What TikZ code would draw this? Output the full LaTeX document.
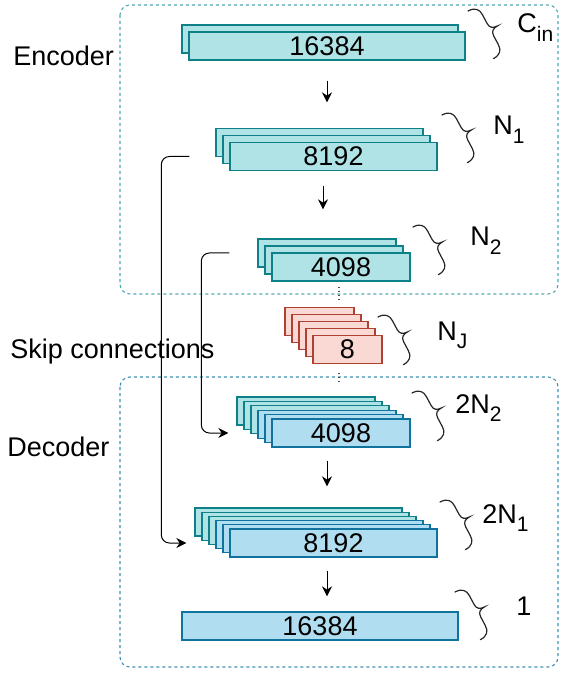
\documentclass[tikz,border=0pt]{standalone}
\usepackage{fontspec}
\setmainfont{Liberation Sans}
\usepackage{xcolor}
\usetikzlibrary{arrows.meta,calc}
\definecolor{encfill}{HTML}{B0E3E6}
\definecolor{encline}{HTML}{0E8088}
\definecolor{decfill}{HTML}{B1DDF0}
\definecolor{decline}{HTML}{10739E}
\definecolor{latfill}{HTML}{FAD9D5}
\definecolor{latline}{HTML}{AE4132}
\definecolor{encgrp}{HTML}{4FA8B4}
\definecolor{decgrp}{HTML}{3F90B4}
\newcommand{\lsub}[1]{\raisebox{-0.3em}{\fontsize{10.5}{10}\selectfont #1}}

\begin{document}
\begin{tikzpicture}[x=0.5pt, y=-0.5pt,
  lay/.style={line width=0.65pt, minimum height=14pt, inner sep=0pt,
              font=\fontsize{13.5}{16}\selectfont},
  enc/.style={lay, draw=encline, fill=encfill},
  dec/.style={lay, draw=decline, fill=decfill},
  lat/.style={lay, draw=latline, fill=latfill},
  wfull/.style={minimum width=138pt},
  wmid/.style={minimum width=103.5pt},
  wsmall/.style={minimum width=69pt},
  wtiny/.style={minimum width=34.5pt},
  grp/.style={dash pattern=on 1.5pt off 1.5pt, line width=0.55pt, rounded corners=5pt},
  arr/.style={-{Stealth[length=5pt,width=5pt]}, line width=0.5pt},
  skip/.style={arr, rounded corners=4pt},
  dotline/.style={dash pattern=on 0.5pt off 1.5pt, line width=0.6pt, gray!60!black},
  chbrace/.pic={\draw[line width=0.6pt, line cap=round, black!85]
      (0,0) .. controls (8,0) and (11,4) .. (11,10) -- (11,20)
      .. controls (11,25) and (14,27) .. (19,27)
      .. controls (14,27) and (11,29) .. (11,34) -- (11,44)
      .. controls (11,50) and (8,54) .. (0,54);},
  lbl/.style={anchor=base west, inner sep=0pt, font=\fontsize{13.5}{16}\selectfont},
]
\useasboundingbox (0,0) rectangle (561,673);

% group frames
\draw[grp, encgrp] (120,5) rectangle (558,294);
\draw[grp, decgrp] (120,377) rectangle (558,667);
\node[lbl] (enclbl) at (13,66) {Encoder};
\node[lbl] (skiplbl) at (10,358) {Skip connections};
\node[lbl] (declbl) at (7,456) {Decoder};

% encoder
\node[enc, wfull] (cin-1) at (320,39) {};
\node[enc, wfull] (cin-2) at (327,46) {16384};
\foreach \i in {1,2}
  \node[enc, wmid] (n1-\i) at ({333.5-7*(3-\i)},{156.5-7*(3-\i)}) {};
\node[enc, wmid] (n1-3) at (333.5,156.5) {8192};
\foreach \i in {1,2}
  \node[enc, wsmall] (n2-\i) at ({341-7*(3-\i)},{267-7*(3-\i)}) {};
\node[enc, wsmall] (n2-3) at (341,267) {4098};

% bottleneck
\foreach \i in {1,...,4}
  \node[lat, wtiny] (nj-\i) at ({347.5-7*(5-\i)},{349.5-7*(5-\i)}) {};
\node[lat, wtiny] (nj-5) at (347.5,349.5) {8};

% decoder
\foreach \i/\s in {1/enc,2/enc,3/enc,4/dec,5/dec}
  \node[\s, wsmall] (d2-\i) at ({341-7*(6-\i)},{433-4.4*(6-\i)}) {};
\node[dec, wsmall] (d2-6) at (341,433) {4098};
\foreach \i/\s in {1/enc,2/enc,3/enc,4/dec,5/dec}
  \node[\s, wmid] (d1-\i) at ({333.5-7*(6-\i)},{543-4.2*(6-\i)}) {};
\node[dec, wmid] (d1-6) at (333.5,543) {8192};
\node[dec, wfull] (out) at (320,626) {16384};

% flow
\draw[arr, shorten <=10pt, shorten >=12.75pt] (cin-2.south) -- (cin-2.south |- n1-1.north);
\draw[arr, shorten <=7.25pt, shorten >=14.5pt] ($(n1-3.south)+(-10.5,0)$) -- ($(n1-3.south |- n2-1.north)+(-10.5,0)$);
\draw[dotline] ($(n2-3.south)+(-2,5)$) -- ($(n2-3.south |- nj-1.north)+(-2,-8)$);
\draw[dotline] ($(nj-5.south)+(-8.5,9)$) -- ($(nj-5.south |- d2-1.north)+(-8.5,-12)$);
\draw[arr, shorten <=6.5pt, shorten >=10.5pt] ($(d2-6.south)+(-14,0)$) -- ($(d2-6.south |- d1-1.north)+(-14,0)$);
\draw[arr, shorten <=6.5pt, shorten >=7.5pt] ($(d1-6.south)+(-6.5,0)$) -- ($(d1-6.south |- out.north)+(-6.5,0)$);

% skip connections
\draw[skip, shorten <=20pt, shorten >=21.5pt] (n1-3.west) -- ++(-68,0) |- (d1-6.west);
\draw[skip, shorten <=14pt, shorten >=21.5pt] (n2-1.west) -- ++(-56,0) |- (d2-6.west);

% channel braces
\pic[rotate=28] at (468,11) {chbrace};
\pic[rotate=28] at (442,115) {chbrace};
\pic[rotate=28] at (413,227) {chbrace};
\pic[rotate=28] at (378,317) {chbrace};
\pic[rotate=28] at (412,393) {chbrace};
\pic[rotate=28] at (440,502) {chbrace};
\pic[rotate=28] at (455,592) {chbrace};
\node[lbl] (cinlbl) at (517,33) {C\lsub{in}};
\node[lbl] (n1lbl) at (493,135) {N\lsub{1}};
\node[lbl] (n2lbl) at (470,246) {N\lsub{2}};
\node[lbl] (njlbl) at (437,340) {N\lsub{J}};
\node[lbl] (d2lbl) at (455,413) {2N\lsub{2}};
\node[lbl] (d1lbl) at (482,523) {2N\lsub{1}};
\node[lbl] (outlbl) at (516,615) {1};
\end{tikzpicture}
\end{document}
